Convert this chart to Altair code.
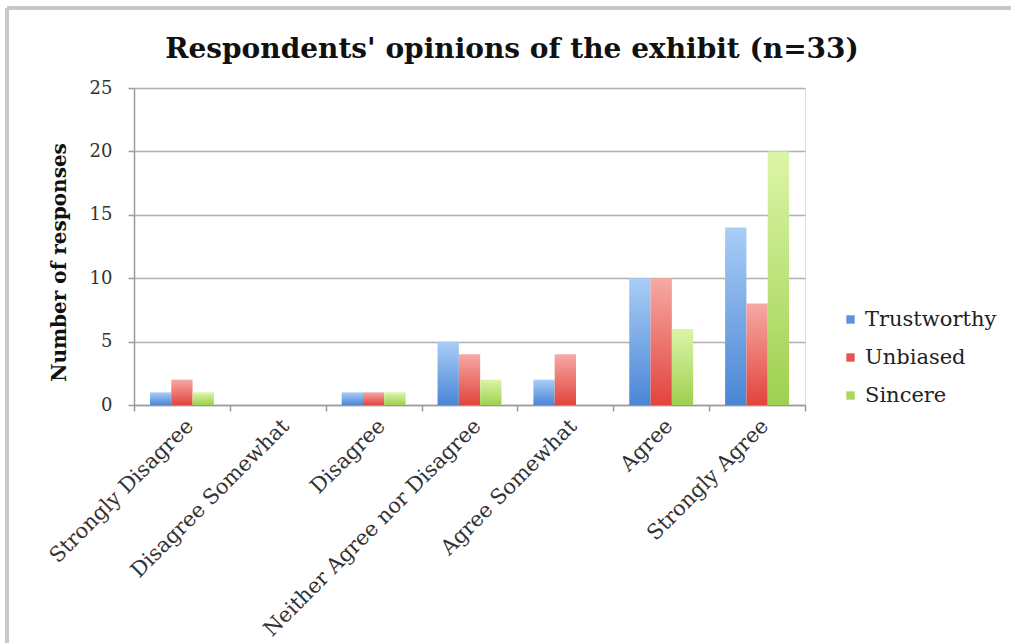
import altair as alt
import pandas as pd

categories = ["Strongly Disagree", "Disagree Somewhat", "Disagree",
              "Neither Agree nor Disagree", "Agree Somewhat", "Agree", "Strongly Agree"]
series = ["Trustworthy", "Unbiased", "Sincere"]
trustworthy = [1, 0, 1, 5, 2, 10, 14]
unbiased = [2, 0, 1, 4, 4, 10, 8]
sincere = [1, 0, 1, 2, 0, 6, 20]
title_text = "Respondents' opinions of the exhibit (n=33)"

flat_colors = ["#5b94dc", "#e5544f", "#a9d85a"]
gradients = {
    "Trustworthy": ("#a9cdf6", "#4a86d6"),
    "Unbiased": ("#f6a9a4", "#e2443d"),
    "Sincere": ("#dcf5a8", "#9fd050"),
}

rows = []
for s, vals in zip(series, [trustworthy, unbiased, sincere]):
    for c, v in zip(categories, vals):
        rows.append({"category": c, "series": s, "value": v})
df = pd.DataFrame(rows)

FONT = "DejaVu Serif"

x_enc = alt.X("category:N", sort=categories, title=None,
              scale=alt.Scale(paddingInner=0, paddingOuter=0),
              axis=alt.Axis(labelAngle=-45, tickBand="extent", labelFont=FONT,
                            labelFontSize=21, labelColor="#333333", domainColor="#9a9a9a",
                            domainWidth=1.5, tickColor="#9a9a9a", tickWidth=1.5, tickSize=6,
                            labelPadding=4, labelLimit=400))
xoff_enc = alt.XOffset("series:N", sort=series,
                       scale=alt.Scale(domain=series, paddingInner=0, paddingOuter=0.75))
y_enc = alt.Y("value:Q", title="Number of responses",
              scale=alt.Scale(domain=[0, 25], nice=False),
              axis=alt.Axis(values=[0, 5, 10, 15, 20, 25], grid=True, gridColor="#b0b0b0",
                            gridWidth=1.5, domainColor="#9a9a9a", domainWidth=1.5,
                            tickColor="#9a9a9a", tickWidth=1.5, tickSize=6,
                            labelFont=FONT, labelFontSize=18, labelColor="#333333",
                            labelPadding=16, titleFont=FONT, titleFontSize=20,
                            titleFontWeight="bold", titleColor="#111111", titlePadding=20,
                            titleY=174))

layers = []
for s in series:
    top, bottom = gradients[s]
    layers.append(
        alt.Chart(df).transform_filter(alt.datum.series == s).mark_bar(
            color=alt.Gradient(gradient="linear", x1=0, x2=0, y1=0, y2=1,
                               stops=[alt.GradientStop(color=top, offset=0),
                                      alt.GradientStop(color=bottom, offset=1)])
        ).encode(x=x_enc, xOffset=xoff_enc, y=y_enc)
    )

legend_layer = alt.Chart(df).mark_square(opacity=0).encode(
    x=x_enc, xOffset=xoff_enc, y=y_enc,
    color=alt.Color("series:N", sort=series,
                    scale=alt.Scale(domain=series, range=flat_colors),
                    legend=alt.Legend(title=None, orient="none", legendX=706, legendY=221,
                                      symbolType="square", symbolSize=70, symbolOpacity=1,
                                      symbolStrokeWidth=0, labelFont=FONT, labelFontSize=21,
                                      labelColor="#222222", rowPadding=16, labelOffset=4,
                                      labelLimit=300))
)

border = alt.Chart(df).mark_rule(color="#c8c8c8", strokeWidth=3).encode(
    x=alt.value(-127), y=alt.value(-80), y2=alt.value(560)
) + alt.Chart(df).mark_rule(color="#c8c8c8", strokeWidth=3).encode(
    x=alt.value(-127), x2=alt.value(877), y=alt.value(-80)
)

title_layer = alt.Chart(pd.DataFrame({"t": [title_text]})).mark_text(
    font=FONT, fontSize=28, fontWeight="bold", color="#111111",
    align="center", baseline="middle"
).encode(text="t:N", x=alt.value(378), y=alt.value(-38))

chart = alt.layer(border, *layers, legend_layer, title_layer).properties(
    width=671, height=317,
    autosize=alt.AutoSizeParams(type="none"),
    padding={"left": 134, "top": 88, "right": 206, "bottom": 238},
).configure_view(stroke=None).configure(background="white")

chart.save("out.html", embed_options={"renderer": "svg", "actions": False})
